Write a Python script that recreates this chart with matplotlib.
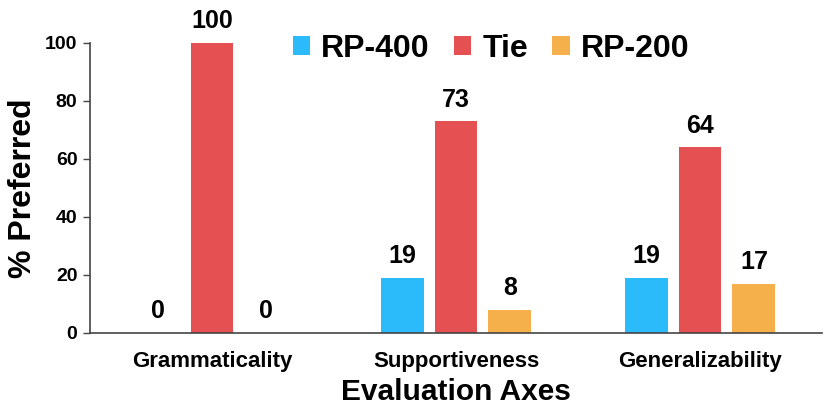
import matplotlib
matplotlib.use("Agg")
import matplotlib.pyplot as plt
import numpy as np

categories = ["Grammaticality", "Supportiveness", "Generalizability"]
series_names = ["RP-400", "Tie", "RP-200"]
rp400 = [0, 19, 19]
tie = [100, 73, 64]
rp200 = [0, 8, 17]
colors = ["#2BBBFB", "#E55053", "#F5B04B"]
yticks = [0, 20, 40, 60, 80, 100]

plt.rcParams['font.family'] = ['Liberation Sans', 'DejaVu Sans']
plt.rcParams['font.weight'] = 'bold'

fig = plt.figure(figsize=(8.3, 4.11), dpi=100)
ax = fig.add_axes([0.1084, 0.1898, 0.8820, 0.7056])

x = np.arange(len(categories))
width = 0.176
step = 0.221
for i, (vals, name, c) in enumerate(zip([rp400, tie, rp200], series_names, colors)):
    pos = x + (i - 1) * step
    ax.bar(pos, vals, width, color=c, label=name, zorder=2)
    for p, v in zip(pos, vals):
        ax.annotate(str(v), (p, v), xytext=(0, 7), textcoords='offset points',
                    ha='center', va='bottom', fontsize=18, fontweight='bold',
                    annotation_clip=False)

ax.set_xlim(-0.5, 2.5)
ax.set_ylim(0, 100)
ax.set_yticks(yticks)
ax.set_yticklabels([str(t) for t in yticks], fontsize=14, fontweight='bold')
ax.set_xticks(x)
ax.set_xticklabels(categories, fontsize=16, fontweight='bold')
ax.tick_params(axis='x', length=0, pad=13)
ax.tick_params(axis='y', length=5, width=1, color='#444444', pad=4)
for s in ['top', 'right']:
    ax.spines[s].set_visible(False)
for s in ['left', 'bottom']:
    ax.spines[s].set_color('#444444')
    ax.spines[s].set_linewidth(1.2)

ax.set_ylabel("% Preferred", fontsize=23, fontweight='bold', labelpad=5)
ax.set_xlabel("Evaluation Axes", fontsize=21.5, fontweight='bold', labelpad=4)

leg = ax.legend(loc='upper center', bbox_to_anchor=(0.548, 1.13), ncol=3, frameon=False,
                prop={'size': 23, 'weight': 'bold'}, handlelength=0.55, handleheight=0.55,
                handletextpad=0.35, columnspacing=0.75)

fig.savefig("out.png", dpi=100)
